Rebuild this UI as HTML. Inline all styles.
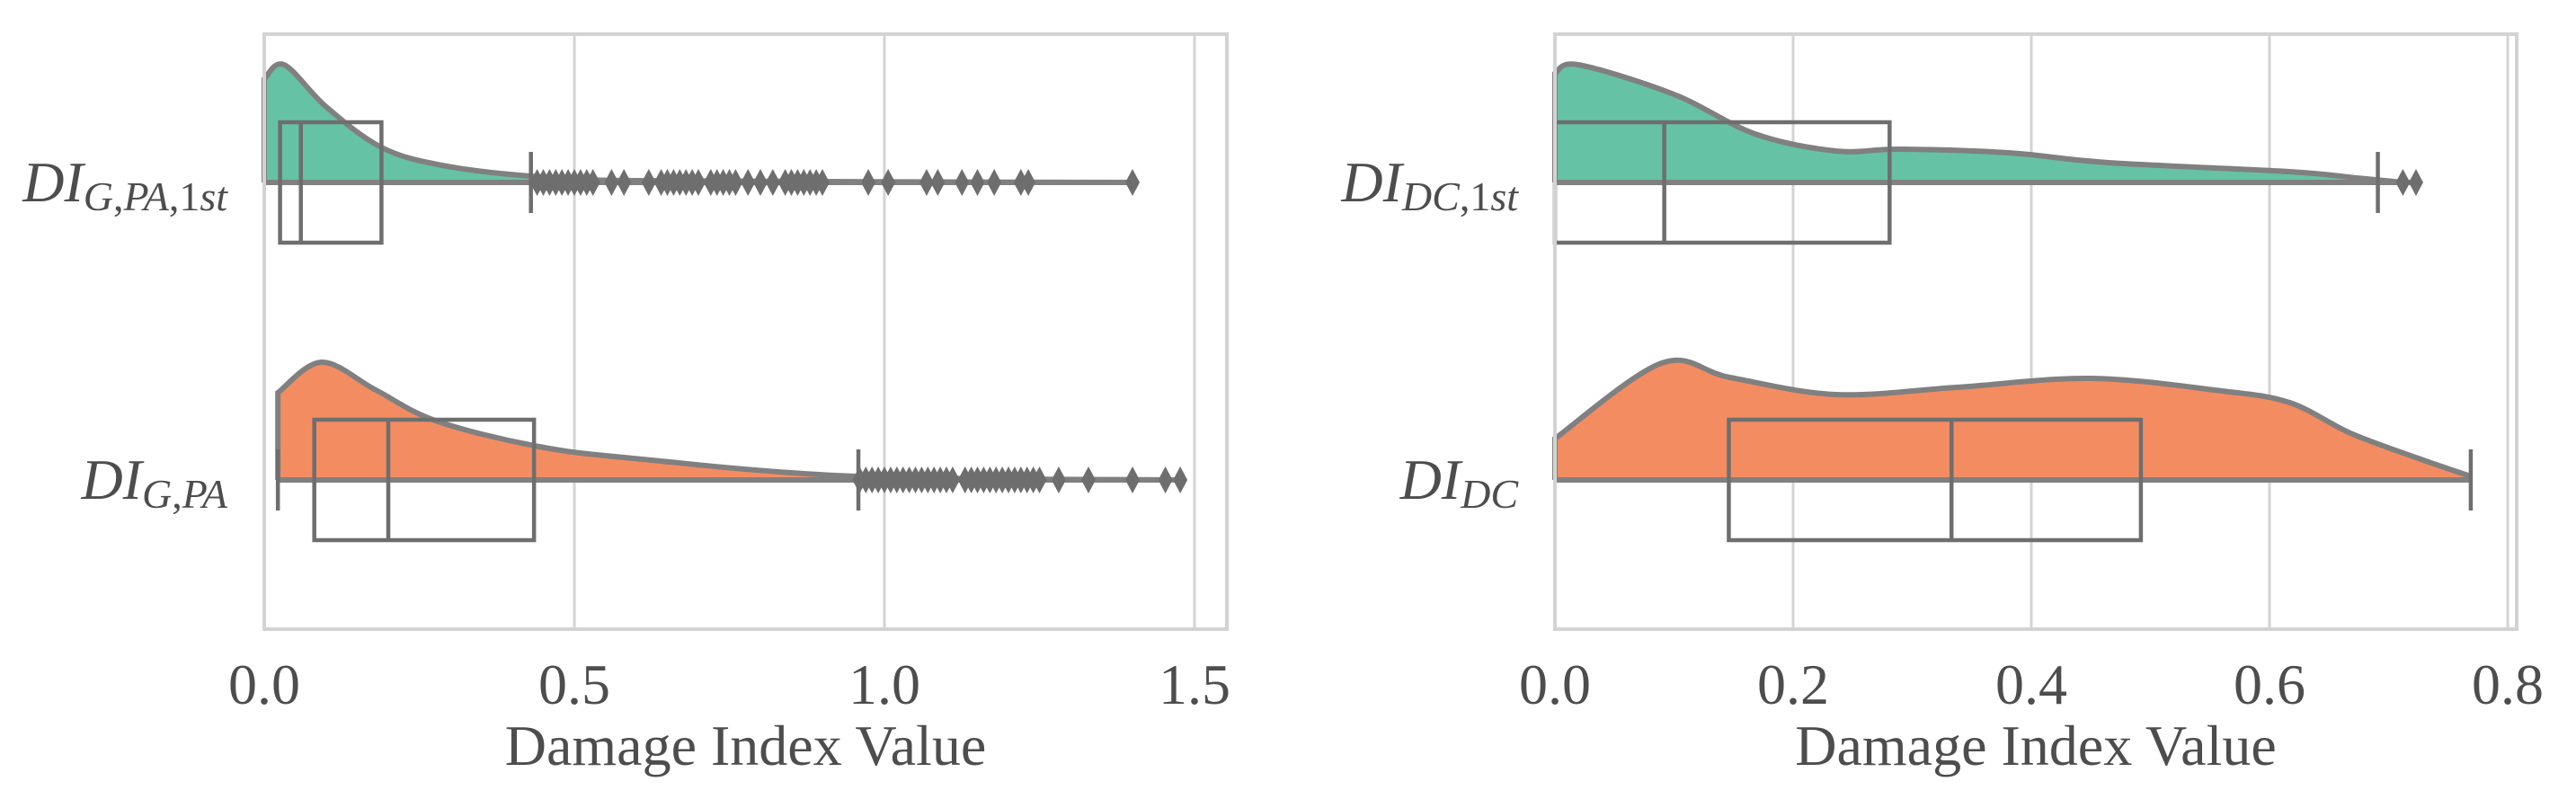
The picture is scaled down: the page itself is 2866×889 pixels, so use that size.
<!DOCTYPE html>
<html><head><meta charset="utf-8"><style>
html,body{margin:0;padding:0;background:#fff;}
svg{display:block;font-family:"Liberation Serif",serif;}
</style></head><body>
<svg id="chart" width="2866" height="889" viewBox="0 0 2866 889" xmlns="http://www.w3.org/2000/svg"></svg>
<script>
// ---------- data ----------
const leftTicks = [0.0, 0.5, 1.0, 1.5];
const leftTickLabels = ["0.0", "0.5", "1.0", "1.5"];
const rightTicks = [0.0, 0.2, 0.4, 0.6, 0.8];
const rightTickLabels = ["0.0", "0.2", "0.4", "0.6", "0.8"];

// box stats: [lowWhisker, q1, median, q3, highWhisker]
const gpa1stBox = [0.0, 0.0255, 0.059, 0.189, 0.43];
const gpaBox = [0.022, 0.0807, 0.20, 0.435, 0.958];
const dc1stBox = [0.0, 0.0, 0.0918, 0.281, 0.691];
const dcBox = [0.0, 0.146, 0.333, 0.492, 0.769];

const gpa1stOutliers = [0.44,0.45,0.46,0.47,0.48,0.49,0.50,0.51,0.52,0.53,0.56,0.58,0.62,0.64,0.65,0.66,0.67,0.68,0.69,0.70,0.72,0.73,0.74,0.75,0.76,0.78,0.80,0.82,0.84,0.85,0.86,0.87,0.88,0.89,0.90,0.974,1.006,1.068,1.086,1.125,1.15,1.177,1.22,1.232,1.40];
const gpaOutliers = [0.96,0.97,0.98,0.99,1.0,1.01,1.02,1.03,1.04,1.05,1.06,1.07,1.08,1.09,1.10,1.11,1.13,1.14,1.15,1.16,1.17,1.18,1.19,1.20,1.21,1.22,1.23,1.24,1.25,1.281,1.329,1.40,1.453,1.477];
const dc1stOutliers = [0.712, 0.723];
const dcOutliers = [];

// density (value, height in px above baseline at scale 131 = peak)
const gpa1stDensX = [0.0, 0.032, 0.1, 0.189, 0.287, 0.43, 0.6, 1.4];
const gpa1stDensY = [115, 131, 84, 39, 19, 7, 2, 0];
const gpaDensX = [0.022, 0.0925, 0.18, 0.276, 0.436, 0.595, 0.955, 1.48];
const gpaDensY = [97, 131, 100, 66, 38, 24, 4, 0];
const dc1stDensX = [0.0, 0.0195, 0.1, 0.168, 0.236, 0.29, 0.381, 0.465, 0.617, 0.673, 0.713];
const dc1stDensY = [121, 131, 98, 54, 35, 37, 33, 22, 12, 5, 0];
const dcDensX = [0.0, 0.0896, 0.147, 0.236, 0.337, 0.45, 0.56, 0.617, 0.668, 0.725, 0.769];
const dcDensY = [46, 130, 114, 95, 103, 113, 99, 86, 52, 24, 4];

// ---------- drawing ----------
const NS = "http://www.w3.org/2000/svg";
const svg = document.getElementById("chart");
function mk(tag, attrs, parent) {
  const e = document.createElementNS(NS, tag);
  for (const k in attrs) e.setAttribute(k, attrs[k]);
  (parent || svg).appendChild(e);
  return e;
}
const EDGE = "#6e6e6e", OUT = "#808080", GRID = "#d3d3d3", TXT = "#4d4d4d";

function smoothPath(pts) {
  let d = "M" + pts[0][0] + "," + pts[0][1];
  for (let i = 0; i < pts.length - 1; i++) {
    const p0 = pts[Math.max(0, i - 1)], p1 = pts[i], p2 = pts[i + 1], p3 = pts[Math.min(pts.length - 1, i + 2)];
    const c1x = p1[0] + (p2[0] - p0[0]) / 6, c1y = p1[1] + (p2[1] - p0[1]) / 6;
    const c2x = p2[0] - (p3[0] - p1[0]) / 6, c2y = p2[1] - (p3[1] - p1[1]) / 6;
    d += " C" + c1x + "," + c1y + " " + c2x + "," + c2y + " " + p2[0] + "," + p2[1];
  }
  return d;
}

function panel(cfg) {
  const g = mk("g", {});
  
  
  const x = v => cfg.x0 + (v - 0) * cfg.pxPerUnit;
  const top = 38, bottom = 700;
  cfg.ticks.forEach((t, i) => {
    const gl = mk("line", {x1: x(t), x2: x(t), y1: top, y2: bottom, stroke: GRID, "stroke-width": 3}, g);
    
    
    const tl = mk("text", {x: x(t), y: 783, "text-anchor": "middle", "font-size": 64, fill: TXT}, g);
    
    
    tl.textContent = cfg.tickLabels[i];
  });
  const xl = mk("text", {x: (cfg.x0 + cfg.xRight) / 2, y: 851, "text-anchor": "middle", "font-size": 64, fill: TXT}, g);
  
  
  xl.textContent = "Damage Index Value";

  cfg.rows.forEach(r => {
    const cy = r.cy;
    const pts = r.dx.map((v, i) => [x(v), cy - r.dy[i]]);
    let d = smoothPath(pts);
    const tail = d.slice(d.indexOf(" C"));
    const fillD = "M" + x(r.dx[0]) + "," + cy + " L" + pts[0][0] + "," + pts[0][1] + tail + " L" + pts[pts.length - 1][0] + "," + cy + " Z";
    const vf = mk("path", {d: fillD, fill: r.color, stroke: "none"}, g);
    
    
    const vo = mk("path", {d: "M" + x(r.dx[0]) + "," + cy + " L" + pts[0][0] + "," + pts[0][1] + tail, fill: "none", stroke: OUT, "stroke-width": 6}, g);
    
    
    const b = r.box;
    const lastOut = r.out.length ? Math.max(...r.out) : b[4];
    const wl = mk("line", {x1: x(r.dx[0]), x2: x(lastOut), y1: cy, y2: cy, stroke: OUT, "stroke-width": 6}, g);
    
    
    const bx = mk("rect", {x: x(b[1]), y: cy - 67, width: x(b[3]) - x(b[1]), height: 134, fill: "none", stroke: EDGE, "stroke-width": 4.5}, g);
    
    
    const md = mk("line", {x1: x(b[2]), x2: x(b[2]), y1: cy - 67, y2: cy + 67, stroke: EDGE, "stroke-width": 4.5}, g);
    
    
    [b[0], b[4]].forEach(w => {
      if (w <= 0.001) return;
      const c = mk("line", {x1: x(w), x2: x(w), y1: cy - 34, y2: cy + 34, stroke: EDGE, "stroke-width": 4.5}, g);
      
      
    });
    r.out.forEach(o => {
      const px = x(o);
      const dm = mk("path", {d: `M${px},${cy - 15} L${px + 8},${cy} L${px},${cy + 15} L${px - 8},${cy} Z`, fill: EDGE}, g);
      
      
    });
    const t = mk("text", {x: cfg.x0 - 41, y: cy + 21, "text-anchor": "end", "font-size": 64, fill: TXT, "font-style": "italic"}, g);
    
    
    const s1 = mk("tspan", {}, t); s1.textContent = "DI";
    const parts = r.sub.split(",");
    parts.forEach((p, i) => {
      const attrs = {"font-size": 46};
      if (i === 0) attrs.dy = 10;
      if (i > 0) { const c = mk("tspan", {"font-size": 46, "font-style": "normal"}, t); c.textContent = ","; }
      if (p === "1st") {
        const one = mk("tspan", Object.assign({"font-style": "normal"}, attrs), t); one.textContent = "1";
        const st = mk("tspan", {"font-size": 46}, t); st.textContent = "st";
      } else {
        const s = mk("tspan", attrs, t); s.textContent = p;
      }
    });
  });
  const fr = mk("rect", {x: cfg.x0, y: top, width: cfg.xRight - cfg.x0, height: bottom - top, fill: "none", stroke: GRID, "stroke-width": 4}, g);
  
  
}

panel({name: "left-panel", x0: 294, xRight: 1365, pxPerUnit: 690, ticks: leftTicks, tickLabels: leftTickLabels,
  rows: [
    {cy: 203, color: "#66c2a5", box: gpa1stBox, out: gpa1stOutliers, dx: gpa1stDensX, dy: gpa1stDensY, sub: "G,PA,1st"},
    {cy: 534, color: "#f48c62", box: gpaBox, out: gpaOutliers, dx: gpaDensX, dy: gpaDensY, sub: "G,PA"}
  ]});
panel({name: "right-panel", x0: 1730, xRight: 2800, pxPerUnit: 1325, ticks: rightTicks, tickLabels: rightTickLabels,
  rows: [
    {cy: 203, color: "#66c2a5", box: dc1stBox, out: dc1stOutliers, dx: dc1stDensX, dy: dc1stDensY, sub: "DC,1st"},
    {cy: 534, color: "#f48c62", box: dcBox, out: dcOutliers, dx: dcDensX, dy: dcDensY, sub: "DC"}
  ]});
</script>
</body></html>
